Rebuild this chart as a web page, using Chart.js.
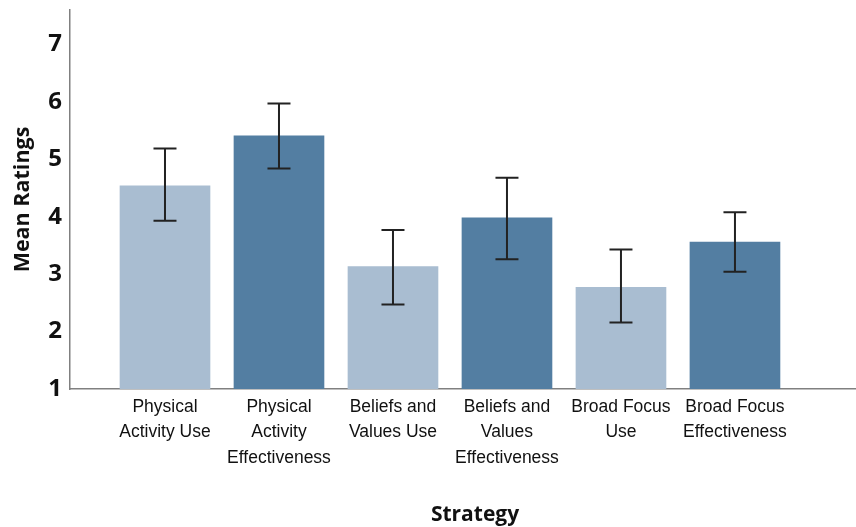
<!DOCTYPE html>
<html>
<head>
<meta charset="utf-8">
<script src="https://cdn.jsdelivr.net/npm/chart.js@4"></script>
<style>
  html, body { margin: 0; padding: 0; background: #fff; }
  #wrap { width: 856px; height: 527px; }
</style>
</head>
<body>
<div id="wrap"><canvas id="c" width="856" height="527"></canvas></div>
<script>
// Strategy categories (multi-line tick labels)
const strategies = [
  ["Physical", "Activity Use"],
  ["Physical", "Activity", "Effectiveness"],
  ["Beliefs and", "Values Use"],
  ["Beliefs and", "Values", "Effectiveness"],
  ["Broad Focus", "Use"],
  ["Broad Focus", "Effectiveness"]
];
// Mean ratings and error bar bounds
const meanRatings = [4.54, 5.41, 3.13, 3.98, 2.77, 3.56];
const errorUpper  = [5.19, 5.97, 3.77, 4.68, 3.43, 4.08];
const errorLower  = [3.93, 4.84, 2.47, 3.26, 2.16, 3.04];
const yTicks = [1, 2, 3, 4, 5, 6, 7];

const lightBlue = '#a9bdd1';
const darkBlue = '#537ea2';
const axisGray = '#808080';

const errorBars = {
  id: 'errorBars',
  afterDatasetsDraw(chart) {
    const { ctx, scales: { x, y } } = chart;
    ctx.save();
    ctx.strokeStyle = '#222';
    ctx.lineWidth = 2;
    ctx.lineCap = 'butt';
    const half = 11.5;
    meanRatings.forEach((_, i) => {
      const px = x.getPixelForValue(i + 1);
      const top = y.getPixelForValue(errorUpper[i]);
      const bot = y.getPixelForValue(errorLower[i]);
      ctx.beginPath();
      ctx.moveTo(px, top); ctx.lineTo(px, bot);
      ctx.moveTo(px - half, top); ctx.lineTo(px + half, top);
      ctx.moveTo(px - half, bot); ctx.lineTo(px + half, bot);
      ctx.stroke();
    });
    ctx.restore();
  }
};

const xTitle = {
  id: 'xTitle',
  afterDraw(chart) {
    const { ctx } = chart;
    ctx.save();
    ctx.fillStyle = '#111';
    ctx.font = 'bold 21px "Open Sans", sans-serif';
    ctx.textAlign = 'center';
    ctx.textBaseline = 'middle';
    ctx.fillText('Strategy', 475, 515);
    ctx.restore();
  }
};

new Chart(document.getElementById('c'), {
  type: 'bar',
  data: {
    datasets: [{
      data: meanRatings.map((v, i) => ({ x: i + 1, y: v })),
      backgroundColor: meanRatings.map((_, i) => i % 2 === 0 ? lightBlue : darkBlue),
      borderWidth: 0,
      barThickness: 90
    }]
  },
  options: {
    responsive: false,
    animation: false,
    devicePixelRatio: 1,
    layout: { padding: { left: 0, right: 1, top: 10, bottom: 0 } },
    plugins: { legend: { display: false }, tooltip: { enabled: false } },
    scales: {
      x: {
        type: 'linear',
        offset: false,
        min: 0.1667,
        max: 7.053,
        grid: { display: false, drawTicks: false },
        border: { display: true, color: axisGray, width: 1.5 },
        afterBuildTicks: s => { s.ticks = strategies.map((_, i) => ({ value: i + 1 })); },
        afterFit: s => { s.height = 527 - 389; s.paddingLeft = 0; s.paddingRight = 0; },
        ticks: {
          autoSkip: false,
          maxRotation: 0,
          minRotation: 0,
          padding: 5,
          color: '#111',
          font: { family: '"Liberation Sans", Arial, sans-serif', size: 17.5, lineHeight: 1.47 },
          callback: v => strategies[Math.round(v) - 1]
        }
      },
      y: {
        min: 1,
        max: 7.6,
        grid: { display: false, drawTicks: false },
        border: { display: true, color: axisGray, width: 1.5 },
        afterBuildTicks: s => { s.ticks = yTicks.map(v => ({ value: v })); },
        afterFit: s => { s.width = 70; s.paddingTop = 0; s.paddingBottom = 0; },
        ticks: {
          padding: 8,
          color: '#111',
          font: { family: '"Open Sans", sans-serif', size: 24, weight: 'bold' }
        },
        title: {
          display: true,
          text: 'Mean Ratings',
          color: '#111',
          padding: { top: 10, bottom: 0 },
          font: { family: '"Open Sans", sans-serif', size: 21.5, weight: 'bold' }
        }
      }
    }
  },
  plugins: [errorBars, xTitle]
});
</script>
</body>
</html>
